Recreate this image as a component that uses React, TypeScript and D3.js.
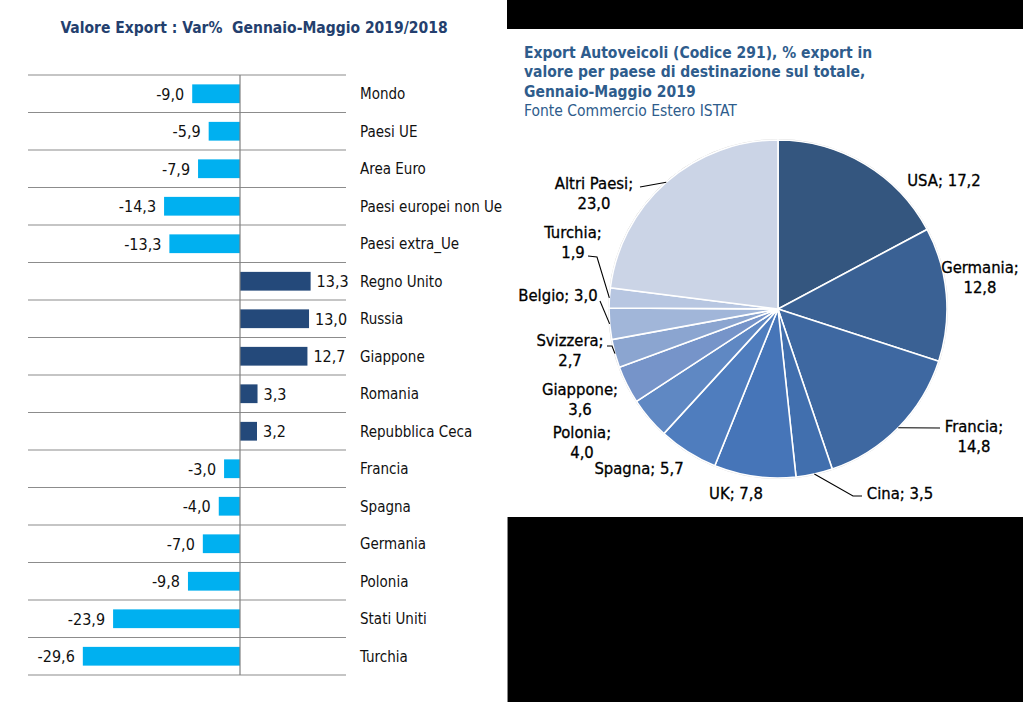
import React from "react";
import * as d3 from "d3";

// ---------- data ----------
const barCategories = [
  "Mondo", "Paesi UE", "Area Euro", "Paesi europei non Ue", "Paesi extra_Ue",
  "Regno Unito", "Russia", "Giappone", "Romania", "Repubblica Ceca",
  "Francia", "Spagna", "Germania", "Polonia", "Stati Uniti", "Turchia",
];
const barValues = [
  -9.0, -5.9, -7.9, -14.3, -13.3, 13.3, 13.0, 12.7, 3.3, 3.2,
  -3.0, -4.0, -7.0, -9.8, -23.9, -29.6,
];

const pieCountries = [
  "USA", "Germania", "Francia", "Cina", "UK", "Spagna", "Polonia",
  "Giappone", "Svizzera", "Belgio", "Turchia", "Altri Paesi",
];
const pieShares = [17.2, 12.8, 14.8, 3.5, 7.8, 5.7, 4.0, 3.6, 2.7, 3.0, 1.9, 23.0];

const leftTitle = "Valore Export : Var%  Gennaio-Maggio 2019/2018";
const rightTitleBold = [
  "Export Autoveicoli (Codice 291), % export in",
  "valore per paese di destinazione sul totale,",
  "Gennaio-Maggio 2019",
];
const rightTitleNormal = "Fonte Commercio Estero ISTAT";

// ---------- styling / layout ----------
const FONT = "'DejaVu Sans Condensed', 'DejaVu Sans', sans-serif";
const pieColors = [
  "#34567f", "#3a6194", "#3e68a1", "#416fae", "#4675b8", "#4f7dbe",
  "#5f88c3", "#7694c9", "#8ba5d0", "#a1b6d9", "#b7c6e1", "#cbd4e6",
];
const NEG_COLOR = "#00b0f0";
const POS_COLOR = "#24497a";

// label layout for pie (relative to pie centre): [dx, dy, twoLines]
const pieLabelLayout: [number, number, boolean][] = [
  [166, -129, false],
  [202, -32, true],
  [196, 127, true],
  [122, 184, false],
  [-42, 184, false],
  [-139, 159, false],
  [-196, 133, true],
  [-198, 90, true],
  [-208, 41, true],
  [-220, -14, false],
  [-205, -67, true],
  [-184, -116, true],
];
// leader lines: slice index -> points (relative to pie centre) before the arc edge point
const leaderPoints: Record<number, [number, number][]> = {
  2: [[162, 119]],
  3: [[84, 187], [75, 187]],
  8: [[-171, 37], [-166, 37]],
  9: [[-178, -8]],
  10: [[-190, -53], [-181, -52]],
  11: [[-138, -122]],
};

const fmt = (v: number) => d3.format(".1f")(v).replace(".", ",").replace("\u2212", "-");

export default function App() {
  const W = 1023, H = 702;

  // bar chart
  const zeroX = 240;
  const pxPerUnit = 5.31;
  const x = d3.scaleLinear()
    .domain([-30, 20])
    .range([zeroX - 30 * pxPerUnit, zeroX + 20 * pxPerUnit]);
  const y = d3.scaleBand<string>()
    .domain(barCategories)
    .range([75, 675])
    .paddingInner(0.5)
    .paddingOuter(0.25);
  const step = y.step();
  const gridYs = d3.range(barCategories.length + 1).map((i) => 75 + i * step);

  // pie chart
  const cx = 778, cy = 309, R = 169;
  const pie = d3.pie<number>().sort(null).value((d) => d);
  const arcs = pie(pieShares);
  const arcGen = d3.arc<d3.PieArcDatum<number>>().innerRadius(0).outerRadius(R);

  return (
    <svg width={W} height={H} style={{ position: "absolute", left: 0, top: 0 }} fontFamily={FONT}>
      <rect x={0} y={0} width={W} height={H} fill="#ffffff" />
      {/* black frame areas on the right */}
      <rect x={507} y={0} width={W - 507} height={29} fill="#000" />
      <rect x={507} y={517} width={W - 507} height={H - 517} fill="#000" />
      <line x1={507.5} x2={507.5} y1={517} y2={H} stroke="#888" strokeWidth={1} />

      {/* ---------- left: bar chart ---------- */}
      <text x={254} y={33} textAnchor="middle" fontSize={15.5} fontWeight="bold" fill="#243f6e" style={{ whiteSpace: "pre" }}>
        {leftTitle}
      </text>
      {gridYs.map((gy, i) => (
        <line key={i} x1={28} x2={346} y1={gy} y2={gy} stroke="#8c8c8c" strokeWidth={1.2} />
      ))}
      {barCategories.map((c, i) => {
        const v = barValues[i];
        const x0 = Math.min(x(0), x(v));
        const w = Math.abs(x(v) - x(0));
        const yc = (y(c) as number) + y.bandwidth() / 2;
        return (
          <g key={c}>
            <rect x={x0} y={y(c)} width={w} height={y.bandwidth()} fill={v < 0 ? NEG_COLOR : POS_COLOR} />
            <text
              x={v < 0 ? x(v) - 8 : x(v) + 6}
              y={yc}
              dy="0.36em"
              textAnchor={v < 0 ? "end" : "start"}
              fontSize={16}
              fill="#111"
            >
              {fmt(v)}
            </text>
            <text x={360} y={yc} dy="0.36em" fontSize={15} fill="#111">
              {c}
            </text>
          </g>
        );
      })}
      <line x1={x(0)} x2={x(0)} y1={75} y2={675} stroke="#808080" strokeWidth={1.2} />

      {/* ---------- right: pie chart ---------- */}
      {rightTitleBold.map((t, i) => (
        <text key={i} x={524} y={58 + i * 19.3} fontSize={15.5} fontWeight="bold" fill="#2e5c8c">
          {t}
        </text>
      ))}
      <text x={524} y={58 + 3 * 19.3} fontSize={15.5} fill="#2e5c8c">
        {rightTitleNormal}
      </text>

      <g transform={`translate(${cx},${cy})`}>
        <circle r={R + 0.5} fill="none" stroke="#d0d0d0" strokeWidth={1} />
        {arcs.map((a, i) => (
          <path key={i} d={arcGen(a) as string} fill={pieColors[i]} stroke="#ffffff" strokeWidth={1.6} />
        ))}
        {arcs.map((a, i) => {
          const pts = leaderPoints[i];
          if (!pts) return null;
          const mid = (a.startAngle + a.endAngle) / 2;
          const edge: [number, number] = [R * Math.sin(mid), -R * Math.cos(mid)];
          const all = [...pts, edge];
          return (
            <path
              key={"l" + i}
              d={d3.line()(all) as string}
              fill="none"
              stroke="#000"
              strokeWidth={1.1}
            />
          );
        })}
        {arcs.map((a, i) => {
          const [dx, dy, two] = pieLabelLayout[i];
          const name = pieCountries[i] + ";";
          const val = fmt(pieShares[i]);
          const common = { textAnchor: "middle" as const, fontSize: 16.5, fill: "#000", stroke: "#000", strokeWidth: 0.3 };
          if (!two) {
            return (
              <text key={"t" + i} x={dx} y={dy} dy="0.36em" {...common}>
                {name} {val}
              </text>
            );
          }
          return (
            <text key={"t" + i} x={dx} y={dy} {...common}>
              <tspan x={dx} dy="-0.22em">{name}</tspan>
              <tspan x={dx} dy="1.2em">{val}</tspan>
            </text>
          );
        })}
      </g>
    </svg>
  );
}
